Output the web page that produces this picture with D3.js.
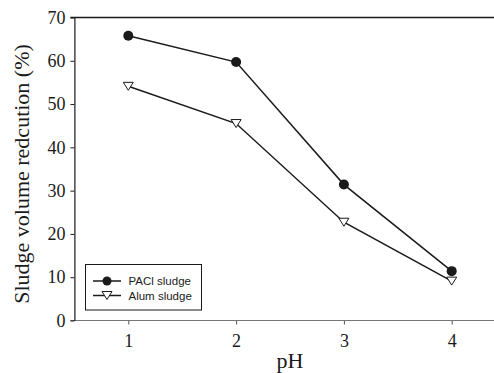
<!DOCTYPE html>
<html><head><meta charset="utf-8">
<script src="https://cdn.jsdelivr.net/npm/d3@7"></script>
<style>body{margin:0;background:#fff}svg{display:block}</style>
</head><body>
<svg id="c" width="494" height="373"></svg>
<script>
const phValues = [1, 2, 3, 4];
const paclSludge = [65.8, 59.7, 31.4, 11.4];
const alumSludge = [54.1, 45.5, 22.7, 9.1];
const yTicks = [0, 10, 20, 30, 40, 50, 60, 70];
const seriesNames = ["PACl sludge", "Alum sludge"];

const svg = d3.select("#c");
const x = d3.scaleLinear().domain([0.5, 4.5]).range([74.4, 505.6]);
const y = d3.scaleLinear().domain([0, 70]).range([320.5, 17.5]);
const serif = "'Liberation Serif','Times New Roman',serif";
const sans = "'Liberation Sans',Arial,sans-serif";
const ink = "#1a1a1a";

// top frame line
svg.append("line").attr("x1", x(0.5)-4).attr("x2", 494).attr("y1", y(70)).attr("y2", y(70))
  .attr("stroke", ink).attr("stroke-width", 1.3);

// x axis
const xa = svg.append("g").attr("transform", `translate(0,${y(0)})`)
  .call(d3.axisBottom(x).tickValues(phValues).tickSize(4).tickPadding(10).tickSizeOuter(0).tickFormat(d3.format("d")));
xa.select(".domain").remove();
xa.append("line").attr("x1", x(0.5)-4).attr("x2", 494).attr("stroke", "#777").attr("stroke-width", 1);
xa.selectAll(".tick line").attr("stroke", "#555");
xa.selectAll("text").attr("font-family", serif).attr("font-size", 18).attr("fill", ink);

// y axis
const ya = svg.append("g").attr("transform", `translate(${x(0.5)},0)`)
  .call(d3.axisLeft(y).tickValues(yTicks).tickSize(4).tickPadding(5).tickSizeOuter(0));
ya.select(".domain").attr("stroke", ink).attr("stroke-width", 1.2);
ya.selectAll(".tick line").attr("stroke", ink);
ya.selectAll("text").attr("font-family", serif).attr("font-size", 18).attr("fill", ink);

// titles
svg.append("text").attr("x", 290).attr("y", 368).attr("text-anchor", "middle")
  .attr("font-family", serif).attr("font-size", 22).attr("fill", ink).text("pH");
svg.append("text").attr("transform", "translate(29,174) rotate(-90)").attr("text-anchor", "middle")
  .attr("font-family", serif).attr("font-size", 22).attr("fill", ink).text("Sludge volume redcution (%)");

const line = d3.line().x((d, i) => x(phValues[i])).y(d => y(d));
const tri = "M-5,-4L5,-4L0,4Z";

svg.append("path").datum(paclSludge).attr("d", line).attr("fill", "none").attr("stroke", ink).attr("stroke-width", 1.5);
svg.append("path").datum(alumSludge).attr("d", line).attr("fill", "none").attr("stroke", ink).attr("stroke-width", 1.5);

svg.selectAll(".pc").data(paclSludge).enter().append("circle")
  .attr("cx", (d, i) => x(phValues[i])).attr("cy", d => y(d)).attr("r", 5).attr("fill", ink);
svg.selectAll(".at").data(alumSludge).enter().append("path")
  .attr("transform", (d, i) => `translate(${x(phValues[i])},${y(d)})`).attr("d", tri)
  .attr("fill", "#fff").attr("stroke", ink).attr("stroke-width", 1);

// legend
const lg = svg.append("g");
lg.append("rect").attr("x", 85.5).attr("y", 264.5).attr("width", 116).attr("height", 45.5)
  .attr("fill", "#fff").attr("stroke", ink).attr("stroke-width", 1);
seriesNames.forEach((name, i) => {
  const yy = 281 + i * 14.5;
  lg.append("line").attr("x1", 93).attr("x2", 121).attr("y1", yy).attr("y2", yy).attr("stroke", ink).attr("stroke-width", 1.5);
  if (i === 0) lg.append("circle").attr("cx", 107).attr("cy", yy).attr("r", 4.5).attr("fill", ink);
  else lg.append("path").attr("transform", `translate(107,${yy})`).attr("d", tri).attr("fill", "#fff").attr("stroke", ink);
  lg.append("text").attr("x", 128.5).attr("y", yy + 4).attr("font-family", sans).attr("font-size", 11.5).attr("fill", ink).text(name);
});
</script>
</body></html>
